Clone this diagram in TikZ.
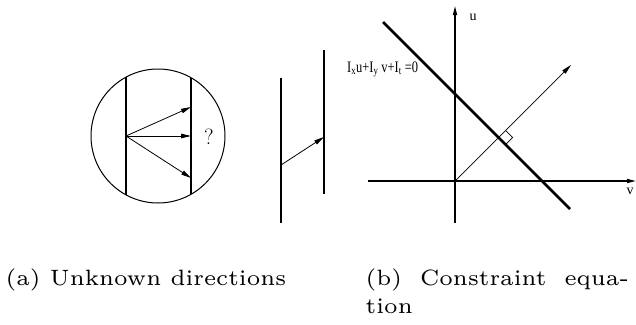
\documentclass[tikz,border=0pt]{standalone}
\usepackage{fontspec}
\newfontfamily\figfont{Liberation Serif}
\usetikzlibrary{positioning, arrows.meta}

\begin{document}
\begin{tikzpicture}[
    x=1pt, y=-1pt,
    edge/.style={line width=1.3pt},
    flow/.style={line width=0.8pt, -{Triangle[length=10pt, width=4.5pt]}},
    axis/.style={line width=1.3pt, -{Triangle[length=9pt, width=4pt]}},
    lbl/.style={font=\figfont\fontsize{14}{16}\selectfont, inner sep=0pt},
    legend/.style={font=\fontsize{6}{7}\selectfont, inner sep=0pt, scale=3.7, transform shape, anchor=base west}
]
    \useasboundingbox (0,0) rectangle (636,324);

    % Lentille
    \node[circle, draw, line width=1pt, minimum size=134pt, inner sep=0pt] (lens) at (158,136) {};
    \coordinate (la) at (126,77);
    \coordinate (lb) at (126,195);
    \coordinate (ra) at (191,78);
    \coordinate (rb) at (191,194);
    \coordinate (src) at (126,136);
    \coordinate (t1) at (191,107);
    \coordinate (t2) at (191,136);
    \coordinate (t3) at (191,178);
    \node[font=\fontsize{22}{24}\selectfont, inner sep=0pt] (q) at (209,137) {?};

    \draw[edge] (la) -- (lb);
    \draw[edge] (ra) -- (rb);
    \draw[flow] (src) -- (t1);
    \draw[flow] (src) -- (t2);
    \draw[flow] (src) -- (t3);

    % Bords
    \coordinate (ea) at (281,78);
    \coordinate (eb) at (281,223);
    \coordinate (fa) at (324,50);
    \coordinate (fb) at (324,194);
    \coordinate (s) at (281,165);
    \coordinate (t) at (324,137);
    \draw[edge] (ea) -- (eb);
    \draw[edge] (fa) -- (fb);
    \draw[flow] (s) -- (t);

    % Espace des vitesses
    \coordinate (o) at (455,181);
    \coordinate (utop) at (455,6);
    \coordinate (ubot) at (455,223);
    \coordinate (vleft) at (368,181);
    \coordinate (vright) at (636,181);
    \coordinate (ca) at (383,22);
    \coordinate (cb) at (570,209);
    \coordinate (n) at (571,65);
    \coordinate (p) at (498.5,137.5);
    \coordinate (eqpos) at (347,72);
    \node[lbl] (u) at (473,17) {u};
    \node[lbl] (v) at (630,191) {v};
    \node[lbl, font=\figfont\fontsize{16}{18}\selectfont, xscale=0.78, transform shape, anchor=base west] (eq) at (eqpos)
        {I\textsubscript{x}u+I\textsubscript{y} v+I\textsubscript{t} =0};

    \draw[axis] (ubot) -- (utop);
    \draw[axis] (vleft) -- (vright);
    \draw[line width=2.6pt] (ca) -- (cb);
    \draw[flow, line width=0.7pt] (o) -- (n);
    \draw[line width=0.7pt] ([shift={(7,-7)}]p) -- ([shift={(14,0)}]p) -- ([shift={(7,7)}]p);

    % Legendes
    \coordinate (capA) at (5,285);
    \coordinate (capB) at (365,285);
    \coordinate (capC) at (365,313);
    \node[legend] (capa) at (capA) {(a) Unknown directions};
    \node[legend] (capb) at (capB) {\makebox[71.1pt][s]{(b) Constraint equa-}};
    \node[legend] (capc) at (capC) {tion};

\end{tikzpicture}
\end{document}
